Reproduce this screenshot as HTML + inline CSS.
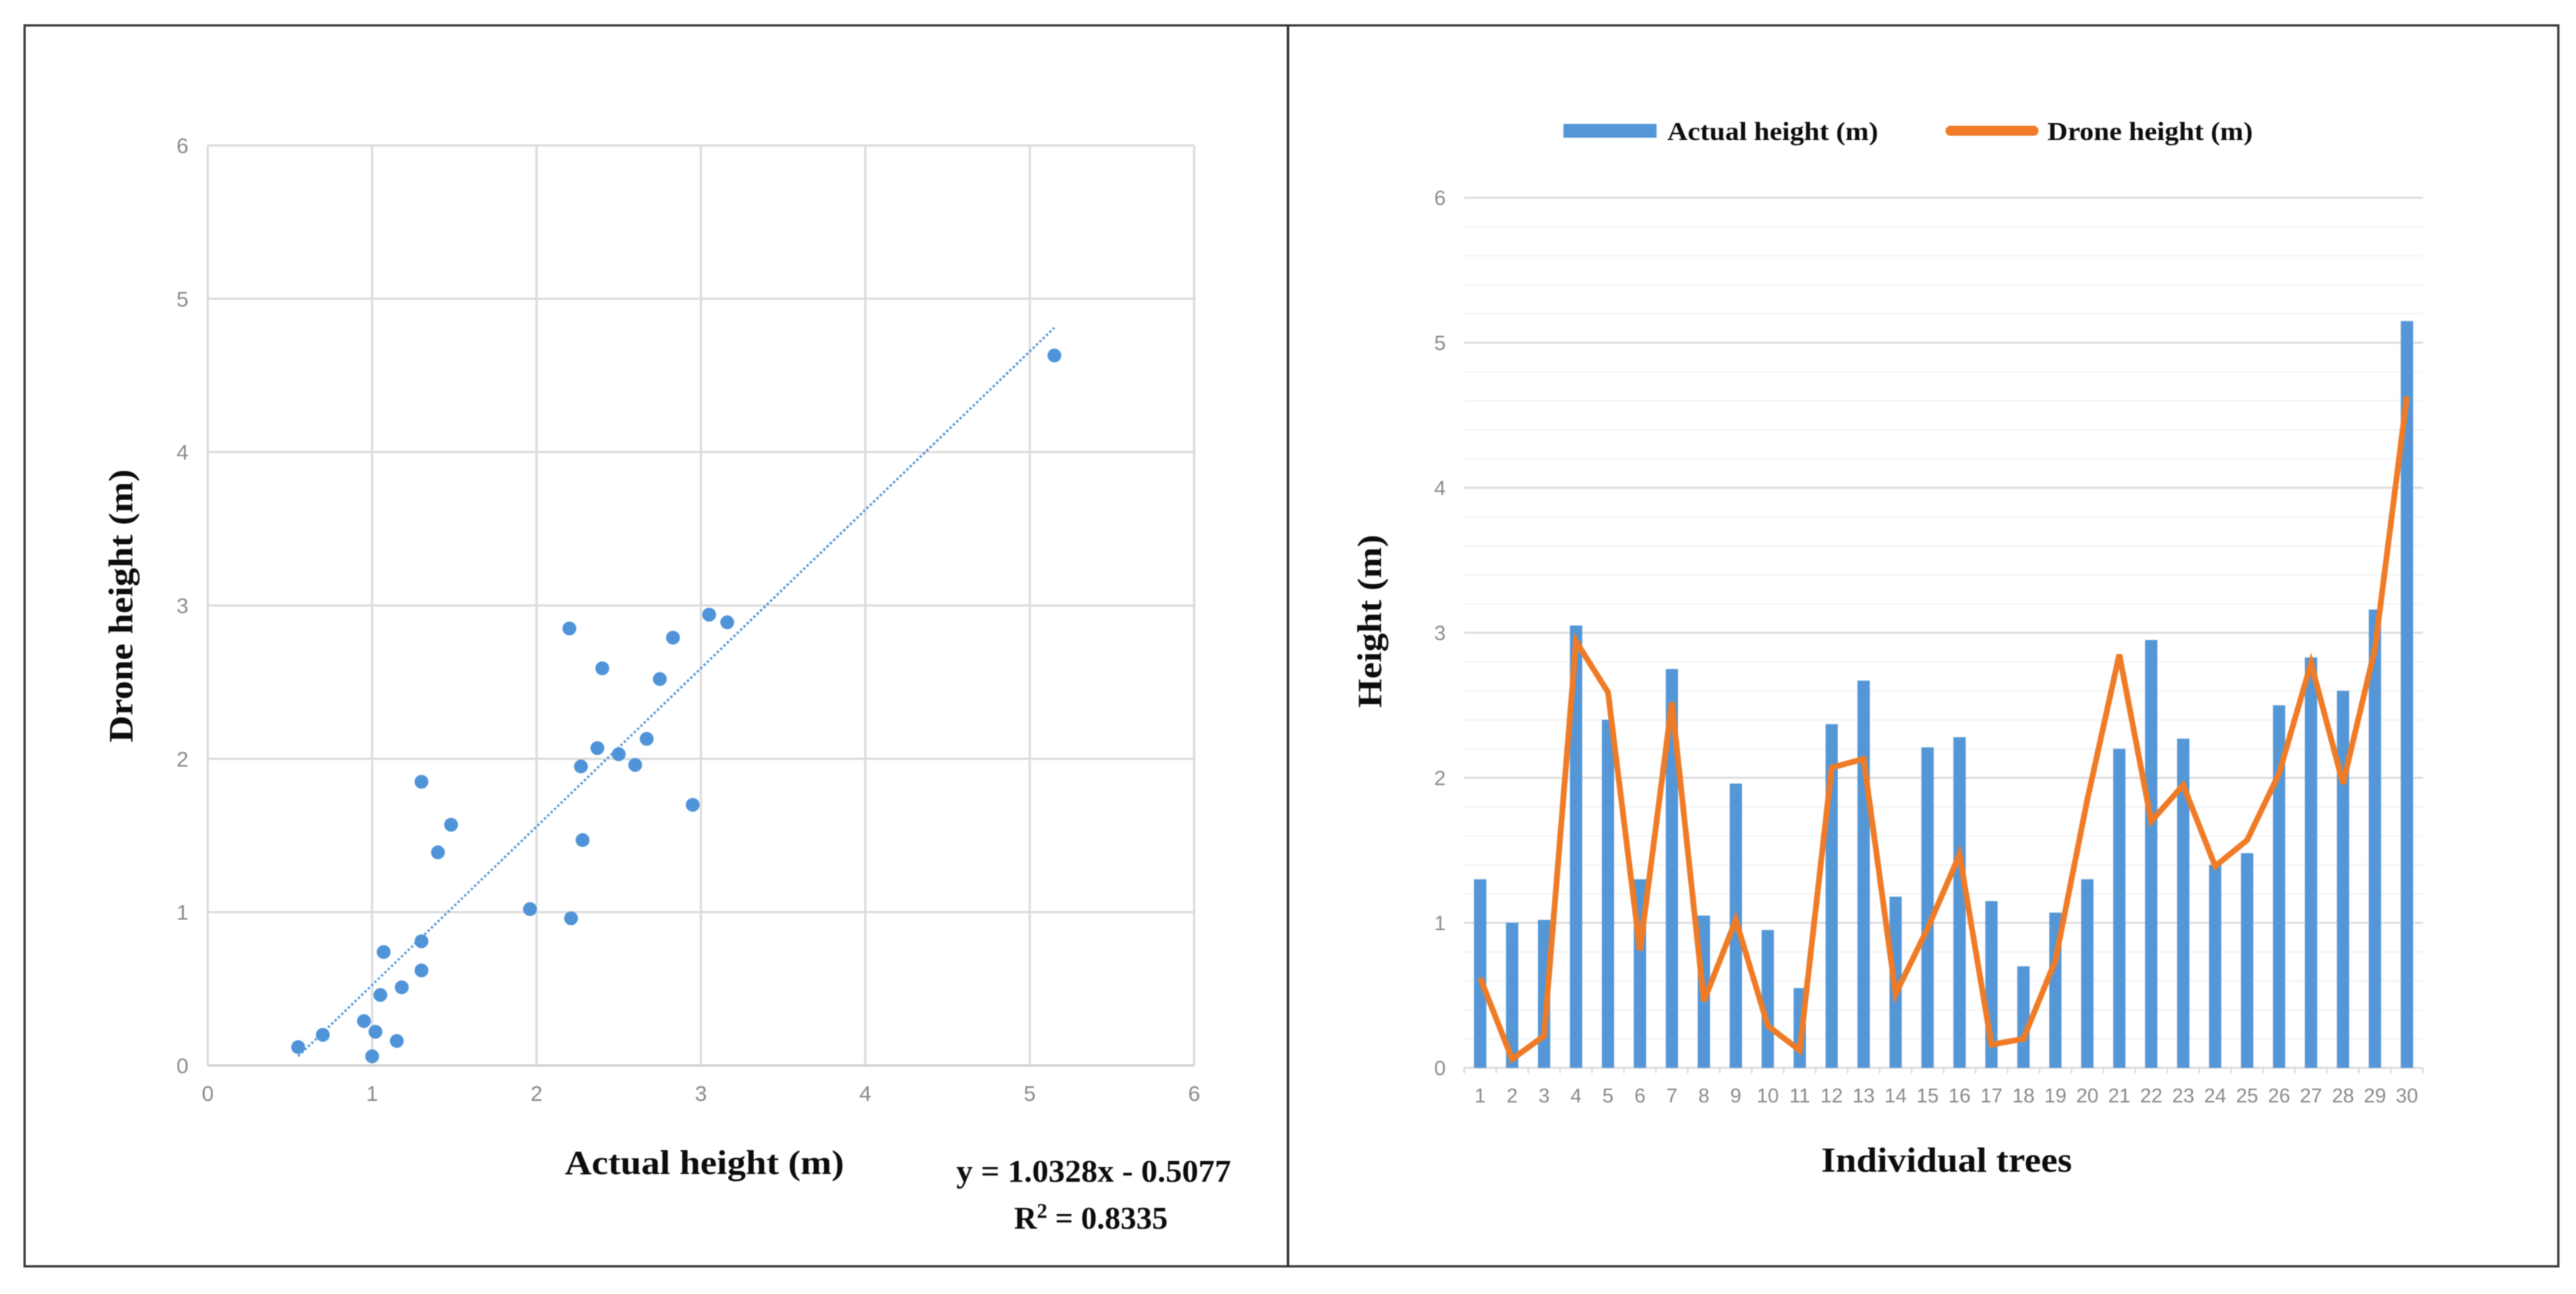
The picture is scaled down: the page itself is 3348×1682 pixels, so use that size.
<!DOCTYPE html>
<html lang="en">
<head>
<meta charset="utf-8">
<title>Actual vs drone height of individual trees</title>
<style>
html,body{margin:0;padding:0;background:#fff;}
svg{display:block;}
.title{font-family:"Liberation Serif",serif;font-weight:bold;fill:#0c0c0c;}
.tick{font-family:"Liberation Sans",sans-serif;fill:#8a8a8a;}
</style>
</head>
<body>
<svg id="figure" xmlns="http://www.w3.org/2000/svg" width="3348" height="1682" viewBox="0 0 3348 1682">
  <rect x="0" y="0" width="3348" height="1682" fill="#ffffff"/>
  <g id="blur-root" style="filter:blur(0.6px)">
    <rect x="32" y="33" width="3293" height="1613" fill="none" stroke="#3a3a3a" stroke-width="3"/>
    <line x1="1674" y1="33" x2="1674" y2="1646" stroke="#2a2a2a" stroke-width="3"/>

    <g id="scatter"></g>
    <g id="combo"></g>

    <text class="title" font-size="44" x="172" y="965" textLength="355" lengthAdjust="spacingAndGlyphs" transform="rotate(-90 172 965)">Drone height (m)</text>
    <text class="title" font-size="44" x="734" y="1526" textLength="363" lengthAdjust="spacingAndGlyphs">Actual height (m)</text>
    <text class="title" font-size="41" x="1243" y="1536" textLength="357" lengthAdjust="spacingAndGlyphs">y = 1.0328x - 0.5077</text>
    <text class="title" font-size="41" x="1318" y="1597">R<tspan font-size="27" dy="-14">2</tspan><tspan dy="14"> = 0.8335</tspan></text>

    <rect x="2032" y="161" width="121" height="18" fill="#5597d6"/>
    <text class="title" font-size="34" x="2167" y="182" textLength="274" lengthAdjust="spacingAndGlyphs">Actual height (m)</text>
    <line x1="2535" y1="170" x2="2643" y2="170" stroke="#ef7b26" stroke-width="13" stroke-linecap="round"/>
    <text class="title" font-size="34" x="2661" y="182" textLength="267" lengthAdjust="spacingAndGlyphs">Drone height (m)</text>

    <text class="title" font-size="44" x="1795" y="920" textLength="225" lengthAdjust="spacingAndGlyphs" transform="rotate(-90 1795 920)">Height (m)</text>
    <text class="title" font-size="46" x="2367" y="1523" textLength="326" lengthAdjust="spacingAndGlyphs">Individual trees</text>
  </g>
</svg>
<script>
const treeIds = ["1","2","3","4","5","6","7","8","9","10","11","12","13","14","15","16","17","18","19","20","21","22","23","24","25","26","27","28","29","30"];
const actualHeights = [1.30,1.00,1.02,3.05,2.40,1.30,2.75,1.05,1.96,0.95,0.55,2.37,2.67,1.18,2.21,2.28,1.15,0.70,1.07,1.30,2.20,2.95,2.27,1.40,1.48,2.50,2.83,2.60,3.16,5.15];
const droneHeights = [0.62,0.06,0.22,2.94,2.59,0.81,2.52,0.46,1.02,0.29,0.12,2.07,2.13,0.51,0.96,1.47,0.16,0.20,0.74,1.85,2.85,1.70,1.95,1.39,1.57,2.03,2.79,1.96,2.89,4.63];
const scatterXTicks = [0,1,2,3,4,5,6];
const scatterYTicks = [0,1,2,3,4,5,6];
const comboYTicks = [0,1,2,3,4,5,6];
const comboMinorTicks = [0.2,0.4,0.6,0.8,1.2,1.4,1.6,1.8,2.2,2.4,2.6,2.8,3.2,3.4,3.6,3.8,4.2,4.4,4.6,4.8,5.2,5.4,5.6,5.8];
const trendSlope = 1.0328;
const trendIntercept = -0.5077;

const SVGNS = "http://www.w3.org/2000/svg";
function make(parent, tag, attrs, text) {
  const node = document.createElementNS(SVGNS, tag);
  for (const key in attrs) node.setAttribute(key, attrs[key]);
  if (text !== undefined) node.textContent = text;
  parent.appendChild(node);
  return node;
}

/* Scatter chart axes */
const sx = v => 270 + (v / 6) * (1552 - 270);
const sy = v => 1385 - (v / 6) * (1385 - 189);
const scatter = document.getElementById("scatter");

scatterXTicks.forEach(t => {
  const grid = make(scatter, "line", {x1: sx(t), y1: sy(0), x2: sx(t), y2: sy(6), stroke: "#dcdcdc", "stroke-width": 3});
  
  
  const label = make(scatter, "text", {class: "tick", x: sx(t), y: 1431, "font-size": 28, "text-anchor": "middle"}, String(t));
  
  
});
scatterYTicks.forEach(t => {
  const grid = make(scatter, "line", {x1: sx(0), y1: sy(t), x2: sx(6), y2: sy(t), stroke: t === 0 ? "#cfcfcf" : "#dcdcdc", "stroke-width": 3});
  
  
  const label = make(scatter, "text", {class: "tick", x: 245, y: sy(t) + 10, "font-size": 28, "text-anchor": "end"}, String(t));
  
  
});

const trendX0 = Math.min(...actualHeights);
const trendX1 = Math.max(...actualHeights);
const trend = make(scatter, "line", {
  x1: sx(trendX0), y1: sy(trendSlope * trendX0 + trendIntercept),
  x2: sx(trendX1), y2: sy(trendSlope * trendX1 + trendIntercept),
  stroke: "#5597d6", "stroke-width": 3, "stroke-dasharray": "3 3"
});



actualHeights.forEach((a, i) => {
  const dot = make(scatter, "circle", {cx: sx(a), cy: sy(droneHeights[i]), r: 9, fill: "#4f94d8"});
  
  
});

/* Bar + line chart axes */
const cLeft = 1903, cRight = 3149;
const cx = i => cLeft + (i + 0.5) * (cRight - cLeft) / treeIds.length;
const cy = v => 1388 - (v / 6) * (1388 - 257);
const combo = document.getElementById("combo");

comboMinorTicks.forEach(t => {
  const grid = make(combo, "line", {x1: cLeft, y1: cy(t), x2: cRight, y2: cy(t), stroke: "#f5f5f5", "stroke-width": 2.5});
  
  
});
comboYTicks.forEach(t => {
  const grid = make(combo, "line", {x1: cLeft, y1: cy(t), x2: cRight, y2: cy(t), stroke: "#dcdcdc", "stroke-width": 2.5});
  
  
  const label = make(combo, "text", {class: "tick", x: 1879, y: cy(t) + 9.5, "font-size": 27, "text-anchor": "end"}, String(t));
  
  
});
treeIds.forEach((id, i) => {
  const mark = make(combo, "line", {x1: cx(i) - (cRight - cLeft) / treeIds.length / 2, y1: cy(0), x2: cx(i) - (cRight - cLeft) / treeIds.length / 2, y2: cy(0) + 7, stroke: "#d9d9d9", "stroke-width": 2});
  
  
  const label = make(combo, "text", {class: "tick", x: cx(i), y: 1433, "font-size": 26, "text-anchor": "middle"}, id);
  
  
});
const lastMark = make(combo, "line", {x1: cRight, y1: cy(0), x2: cRight, y2: cy(0) + 7, stroke: "#d9d9d9", "stroke-width": 2});



actualHeights.forEach((v, i) => {
  const bar = make(combo, "rect", {x: cx(i) - 8, y: cy(v), width: 16, height: cy(0) - cy(v), fill: "#5597d6"});
  
  
});

const dronePoints = droneHeights.map((v, i) => cx(i) + "," + cy(v)).join(" ");
const droneLine = make(combo, "polyline", {points: dronePoints, fill: "none", stroke: "#ef7b26", "stroke-width": 7.5, "stroke-linejoin": "miter"});


</script>
</body>
</html>
